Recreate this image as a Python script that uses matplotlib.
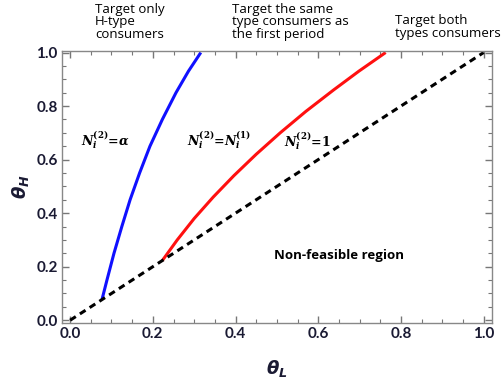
import matplotlib.pyplot as plt
from matplotlib.ticker import MultipleLocator

# boundary curves
blue_x = [0.077, 0.089, 0.106, 0.125, 0.145, 0.168, 0.193, 0.223, 0.256, 0.286, 0.316]
blue_y = [0.077, 0.15, 0.25, 0.35, 0.45, 0.55, 0.65, 0.75, 0.85, 0.93, 1.0]
red_x = [0.223, 0.259, 0.300, 0.346, 0.396, 0.450, 0.508, 0.570, 0.637, 0.698, 0.763]
red_y = [0.223, 0.30, 0.38, 0.46, 0.54, 0.62, 0.70, 0.78, 0.86, 0.93, 1.0]
diag = [0.0, 1.0]

plt.rcParams['font.family'] = ['Open Sans', 'DejaVu Sans']
plt.rcParams['mathtext.fontset'] = 'dejavusans'

fig = plt.figure(figsize=(5.03, 3.79), dpi=100)
ax = fig.add_axes([0.123, 0.148, 0.855, 0.717])

ax.plot(blue_x, blue_y, color='#1010ff', lw=2.2, solid_capstyle='butt')
ax.plot(red_x, red_y, color='#ff1010', lw=2.2, solid_capstyle='butt')
ax.plot(diag, diag, color='black', lw=2.2, ls=(0, (2.2, 1.6)))

ax.set_xlim(-0.02, 1.02)
ax.set_ylim(-0.01, 1.005)
ax.xaxis.set_major_locator(MultipleLocator(0.2))
ax.yaxis.set_major_locator(MultipleLocator(0.2))
ax.xaxis.set_minor_locator(MultipleLocator(0.05))
ax.yaxis.set_minor_locator(MultipleLocator(0.05))
ax.tick_params(which='both', direction='in', top=True, right=True, color='#777777')
ax.tick_params(which='major', length=5, width=1)
ax.tick_params(which='minor', length=3, width=0.8)
ax.tick_params(labelsize=11, labelcolor='#1a1a33', pad=3)
for lab in ax.get_xticklabels() + ax.get_yticklabels():
    lab.set_fontweight('bold')
    lab.set_family(['Lato', 'DejaVu Sans'])
for s in ax.spines.values():
    s.set_color('#888888')
    s.set_linewidth(1)

ax.set_xlabel(r'$\mathbfit{\theta}_{\mathbfit{L}}$', fontsize=13, color='#1a1a33', labelpad=12)
ax.set_ylabel(r'$\mathbfit{\theta}_{\mathbfit{H}}$', fontsize=13, color='#1a1a33', labelpad=4)

n2 = r'$\mathbfit{N}_{\mathbfit{i}}^{\mathbf{(2)}}$'
n1 = r'$\mathbfit{N}_{\mathbfit{i}}^{\mathbf{(1)}}$'
lab_kw = dict(fontsize=9, color='black', va='baseline', math_fontfamily='dejavuserif',
              family='DejaVu Serif', fontweight='bold')
ax.text(0.027, 0.653, n2 + '=' + r'$\mathbfit{\alpha}$', **lab_kw)
ax.text(0.283, 0.653, n2 + '=' + n1, **lab_kw)
ax.text(0.518, 0.648, n2 + '=1', **lab_kw)
ax.text(0.493, 0.228, 'Non-feasible region', fontsize=9.5, fontweight='bold')

fig.text(95 / 503, 1 - 3 / 379, 'Target only\nH-type\nconsumers', fontsize=9.5,
         va='top', ha='left', linespacing=0.95)
fig.text(232 / 503, 1 - 3 / 379, 'Target the same\ntype consumers as\nthe first period',
         fontsize=9.5, va='top', ha='left', linespacing=0.95)
fig.text(395 / 503, 1 - 14 / 379, 'Target both\ntypes consumers', fontsize=9.5,
         va='top', ha='left', linespacing=0.95)

fig.savefig('out.png', dpi=100)
